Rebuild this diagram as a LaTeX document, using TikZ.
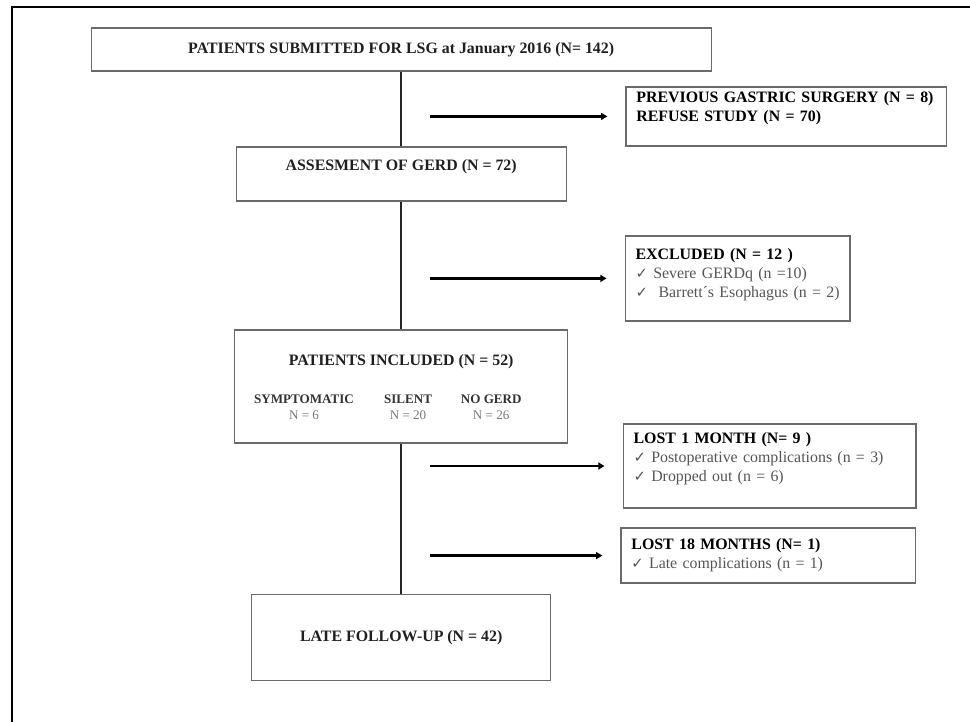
\documentclass[tikz,border=0pt]{standalone}
\usepackage{fontspec}
\setmainfont{Liberation Serif}
\newfontfamily\tickfont{DejaVu Sans}
\usepackage{xcolor}
\usepackage{tikz}
\usetikzlibrary{arrows.meta,positioning}

\definecolor{boxgray}{HTML}{6A6A6A}
\definecolor{itemgray}{HTML}{555555}
\newcommand{\tick}{{\tickfont\fontsize{10.5}{12}\selectfont ✓}}

\begin{document}
\begin{tikzpicture}[
  font=\fontsize{11.3}{13.5}\selectfont,
  mainbox/.style={draw=boxgray, line width=0.9pt, align=center, font=\fontsize{11.3}{13.5}\selectfont\bfseries, text=black!88},
  sidebox/.style={draw=boxgray, line width=0.9pt, align=left, inner xsep=0.26cm, inner ysep=0pt},
  group/.style={align=center, font=\fontsize{9.3}{11.3}\selectfont\bfseries, text=black!80},
  link/.style={line width=1.4pt, black!85},
  arrow/.style={line width=2pt, -{Triangle[length=4.5pt,width=5pt]}, shorten >=0.45cm},
  frame/.style={line width=1.6pt, black}
]
\useasboundingbox (0,0) rectangle (24.25,-18.05);
\draw[frame] (0.3,-18.05) -- (0.3,-0.175) -- (24.25,-0.175);

% main column
\node[mainbox, minimum width=15.5cm, minimum height=1.075cm] (submitted) at (10.03,-1.24) {PATIENTS SUBMITTED FOR LSG at January 2016 (N= 142)};
\node[mainbox, minimum width=8.25cm, minimum height=1.35cm] (assess) at (10.03,-4.35) {ASSESMENT OF GERD (N = 72)\\ \mbox{}};
\node[mainbox, minimum width=8.325cm, minimum height=2.825cm] (included) at (10.03,-9.66) {};
\node[font=\fontsize{11.3}{13.5}\selectfont\bfseries, text=black!88] (inctitle) at (10.03,-9.05) {PATIENTS INCLUDED (N = 52)};
\node[group] (symptomatic) at (7.6,-10.18) {SYMPTOMATIC\\{\mdseries\color{itemgray!80}N = 6}};
\node[group] (silent) at (10.2,-10.18) {SILENT\\{\mdseries\color{itemgray!80}N = 20}};
\node[group] (nogerd) at (12.28,-10.18) {NO GERD\\{\mdseries\color{itemgray!80}N = 26}};
\node[mainbox, minimum width=7.475cm, minimum height=2.15cm] (followup) at (10.03,-15.93) {LATE FOLLOW-UP (N = 42)};

% side boxes
\node[sidebox, text width=7.5cm, minimum height=1.475cm] (prior) at (19.66,-2.91) {\textbf{PREVIOUS GASTRIC SURGERY (N = 8)}\\\textbf{REFUSE STUDY (N = 70)}\\ \mbox{}};
\node[sidebox, text width=5.1cm, minimum height=2.125cm] (excluded) at (18.44,-6.96) {\rule{0pt}{13pt}\textbf{EXCLUDED (N = 12 )}\\{\color{itemgray}\tick{} Severe GERDq (n =10)}\\{\color{itemgray}\tick{}\ \ Barrett´s Esophagus (n = 2)}\\ \mbox{}};
\node[sidebox, text width=6.8cm, minimum height=2.1cm] (lost1) at (19.24,-11.65) {\textbf{LOST 1 MONTH (N= 9 )}\\{\color{itemgray}\tick{} Postoperative complications (n = 3)}\\{\color{itemgray}\tick{} Dropped out (n = 6)}\\ \mbox{}};
\node[sidebox, text width=6.85cm, minimum height=1.375cm] (lost18) at (19.21,-13.89) {\textbf{LOST 18 MONTHS (N= 1)}\\{\color{itemgray}\tick{} Late complications (n = 1)}};

\draw[link] (submitted) -- (assess);
\draw[link] (assess) -- (included);
\draw[link] (included) -- (followup);

\coordinate (tap) at (10.75,0);
\draw[arrow] (tap |- prior.west) -- (prior.west);
\draw[arrow] (tap |- excluded.west) -- (excluded.west);
\draw[arrow] (tap |- lost1.west) -- (lost1.west);
\draw[arrow] (tap |- lost18.west) -- (lost18.west);
\end{tikzpicture}
\end{document}
